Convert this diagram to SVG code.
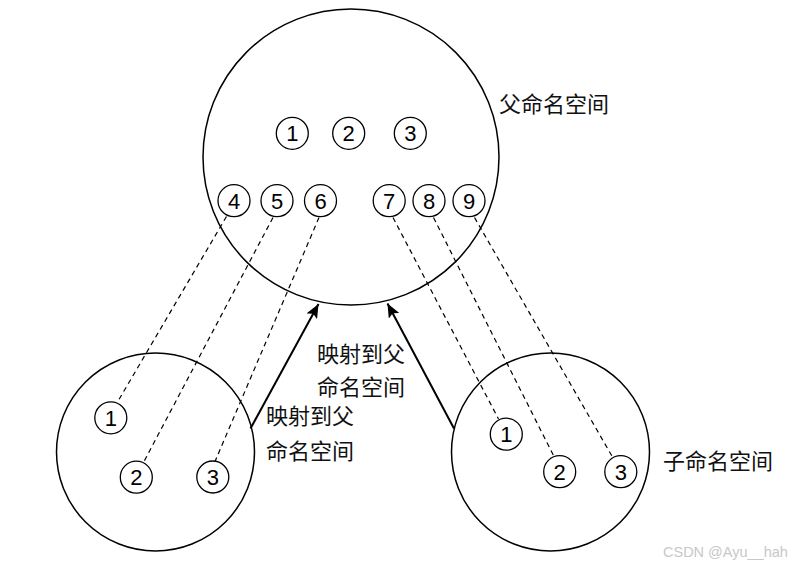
<svg xmlns="http://www.w3.org/2000/svg" width="792" height="566" viewBox="0 0 792 566">
<style>
.ns{fill:none;stroke:#000;stroke-width:1.5}
.item circle{fill:#fff;stroke:#000;stroke-width:1.3}
.item text{font-family:"Liberation Sans",Arial,sans-serif;font-size:22px;text-anchor:middle;fill:#000}
.dash{stroke:#000;stroke-width:1.2;stroke-dasharray:5 4;fill:none}
.arrow{stroke:#000;stroke-width:2;fill:none;marker-end:url(#ah)}
.lbl{font-family:"Noto Sans CJK SC","Noto Sans CJK JP",sans-serif;font-size:22px;fill:#111}
.wm{font-family:"Liberation Sans",Arial,sans-serif;font-size:14.5px;fill:#c8c8c8}
</style>
<defs>
<marker id="ah" markerUnits="userSpaceOnUse" markerWidth="16" markerHeight="12" refX="14" refY="6" orient="auto">
<path d="M0,0 L14,6 L0,12 L3,6 Z" fill="#000"/>
</marker>
</defs>
<rect width="792" height="566" fill="#fff"/>

<g id="parent-ns">
<circle class="ns" cx="351" cy="157" r="148"/>
<text class="lbl" x="499" y="112">父命名空间</text>
</g>
<g id="child-ns-left">
<circle class="ns" cx="155.5" cy="452" r="99"/>
</g>
<g id="child-ns-right">
<circle class="ns" cx="550.5" cy="452" r="99"/>
<text class="lbl" x="663" y="469">子命名空间</text>
</g>

<g id="connectors">
<line class="dash" x1="226.5" y1="216.5" x2="117.5" y2="402"/>
<line class="dash" x1="273" y1="217.5" x2="144" y2="461.5"/>
<line class="dash" x1="319" y1="217.5" x2="215" y2="461.5"/>
<line class="dash" x1="393" y1="217.5" x2="498.5" y2="419"/>
<line class="dash" x1="433.5" y1="217.5" x2="554" y2="456.5"/>
<line class="dash" x1="474.5" y1="217.5" x2="612.5" y2="457"/>
<line class="arrow" x1="250.5" y1="428.5" x2="318.5" y2="304"/>
<line class="arrow" x1="454" y1="428.5" x2="387.5" y2="303.5"/>
<text class="lbl" x="317" y="362">映射到父</text>
<text class="lbl" x="317" y="395">命名空间</text>
<text class="lbl" x="266" y="424">映射到父</text>
<text class="lbl" x="266" y="459">命名空间</text>
</g>

<g id="p1" class="item"><circle cx="292.3" cy="133.3" r="16"/><text x="292.3" y="141.3">1</text></g>
<g id="p2" class="item"><circle cx="348.7" cy="133.3" r="16"/><text x="348.7" y="141.3">2</text></g>
<g id="p3" class="item"><circle cx="410.3" cy="133.3" r="16"/><text x="410.3" y="141.3">3</text></g>
<g id="p4" class="item"><circle cx="234" cy="200.7" r="16"/><text x="234" y="208.7">4</text></g>
<g id="p5" class="item"><circle cx="277" cy="200.7" r="16"/><text x="277" y="208.7">5</text></g>
<g id="p6" class="item"><circle cx="320.5" cy="200.7" r="16"/><text x="320.5" y="208.7">6</text></g>
<g id="p7" class="item"><circle cx="389.2" cy="200.7" r="16"/><text x="389.2" y="208.7">7</text></g>
<g id="p8" class="item"><circle cx="429" cy="200.7" r="16"/><text x="429" y="208.7">8</text></g>
<g id="p9" class="item"><circle cx="469" cy="200.7" r="16"/><text x="469" y="208.7">9</text></g>

<g id="l1" class="item"><circle cx="110.8" cy="417.8" r="16"/><text x="110.8" y="425.8">1</text></g>
<g id="l2" class="item"><circle cx="136.3" cy="477.2" r="16"/><text x="136.3" y="485.2">2</text></g>
<g id="l3" class="item"><circle cx="212.8" cy="477" r="16"/><text x="212.8" y="485">3</text></g>

<g id="r1" class="item"><circle cx="506.3" cy="434.2" r="16"/><text x="506.3" y="442.2">1</text></g>
<g id="r2" class="item"><circle cx="559.7" cy="471.7" r="16"/><text x="559.7" y="479.7">2</text></g>
<g id="r3" class="item"><circle cx="620.8" cy="471.7" r="16"/><text x="620.8" y="479.7">3</text></g>

<text class="wm" x="663" y="557">CSDN @Ayu__hah</text>
</svg>
